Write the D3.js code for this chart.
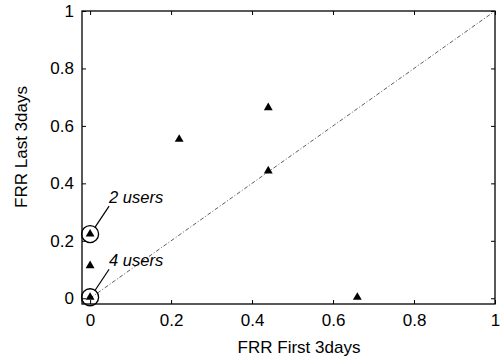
<!DOCTYPE html>
<html>
<head>
<meta charset="utf-8">
<script src="https://cdn.jsdelivr.net/npm/d3@7"></script>
<style>
  body { margin: 0; background: #fff; }
  svg { font-family: "Liberation Sans", Arial, sans-serif; }
</style>
</head>
<body>
<svg id="chart" width="500" height="358"></svg>
<script>
// FRR values per user
var frrFirst = [0.22, 0.44, 0.44, 0.66, 0, 0, 0];
var frrLast  = [0.55, 0.66, 0.44, 0, 0.22, 0.11, 0];
var tickVals = [0, 0.2, 0.4, 0.6, 0.8, 1];
var tickLabels = ["0", "0.2", "0.4", "0.6", "0.8", "1"];
var notes = [
  {x: 0, y: 0.22, label: "2 users"},
  {x: 0, y: 0, label: "4 users"}
];

var svg = d3.select("#chart");
var pLeft = 82, pRight = 495, pTop = 11, pBottom = 304;

var x = d3.scaleLinear().domain([-0.02, 1]).range([pLeft, pRight]);
var y = d3.scaleLinear().domain([-0.02, 1]).range([pBottom, pTop]);

// inward ticks on all sides
var fmt = function(d){ return tickLabels[tickVals.indexOf(d)]; };
svg.append("g").attr("transform", "translate(0," + pBottom + ")")
  .call(d3.axisBottom(x).tickValues(tickVals).tickSizeInner(-4).tickSizeOuter(0).tickPadding(10).tickFormat(fmt));
svg.append("g").attr("transform", "translate(" + pLeft + ",0)")
  .call(d3.axisLeft(y).tickValues(tickVals).tickSizeInner(-4).tickSizeOuter(0).tickPadding(8).tickFormat(fmt));
svg.append("g").attr("transform", "translate(0," + pTop + ")")
  .call(d3.axisTop(x).tickValues(tickVals).tickSizeInner(-4).tickSizeOuter(0).tickFormat(""));
svg.append("g").attr("transform", "translate(" + pRight + ",0)")
  .call(d3.axisRight(y).tickValues(tickVals).tickSizeInner(-4).tickSizeOuter(0).tickFormat(""));

svg.selectAll(".domain").remove();
svg.selectAll(".tick line").attr("stroke", "#000").attr("stroke-width", 1);
svg.selectAll(".tick text").attr("font-size", 17).attr("fill", "#000")
  .attr("font-family", "Liberation Sans, Arial, sans-serif");

svg.append("rect")
  .attr("x", pLeft).attr("y", pTop)
  .attr("width", pRight - pLeft).attr("height", pBottom - pTop)
  .attr("fill", "none").attr("stroke", "#000").attr("stroke-width", 1.3);

// diagonal y = x
svg.append("line")
  .attr("x1", x(0)).attr("y1", y(0))
  .attr("x2", x(1)).attr("y2", y(1))
  .attr("stroke", "#333").attr("stroke-width", 0.8)
  .attr("stroke-dasharray", "4,2,1,2");

// points
var tri = d3.symbol().type(d3.symbolTriangle).size(34);
svg.selectAll(".pt").data(frrFirst).enter().append("path")
  .attr("class", "pt")
  .attr("d", tri)
  .attr("transform", function(d, i){ return "translate(" + x(d) + "," + (y(frrLast[i]) - 1) + ")"; })
  .attr("fill", "#000");

// annotations
notes.forEach(function(n){
  var cx = x(n.x), cy = y(n.y) - 1;
  svg.append("circle").attr("cx", cx).attr("cy", cy).attr("r", 8.5)
    .attr("fill", "none").attr("stroke", "#000").attr("stroke-width", 1.3);
  svg.append("line")
    .attr("x1", cx + 5).attr("y1", cy - 7)
    .attr("x2", cx + 19).attr("y2", cy - 28)
    .attr("stroke", "#000").attr("stroke-width", 1.2);
  svg.append("text")
    .attr("x", cx + 19).attr("y", cy - 31)
    .attr("font-size", 16.5).attr("font-style", "italic")
    .text(n.label);
});

svg.append("text")
  .attr("x", 299).attr("y", 353)
  .attr("text-anchor", "middle").attr("font-size", 17)
  .text("FRR First 3days");

svg.append("text")
  .attr("transform", "translate(27,147) rotate(-90)")
  .attr("text-anchor", "middle").attr("font-size", 17)
  .text("FRR Last 3days");
</script>
</body>
</html>
